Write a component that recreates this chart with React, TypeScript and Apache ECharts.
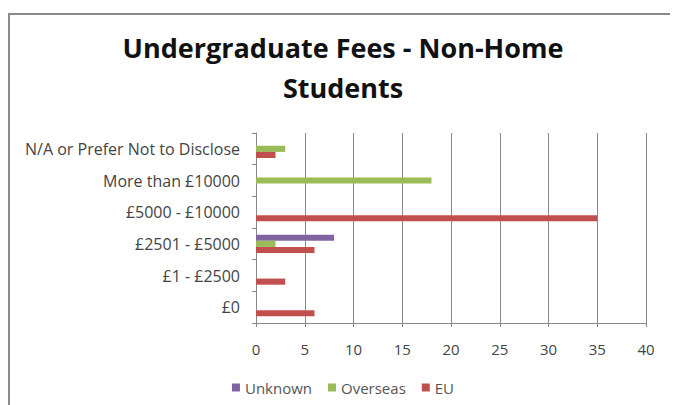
import React, { useEffect, useRef } from "react";
import * as echarts from "echarts";

const categories = [
  "£0",
  "£1 - £2500",
  "£2501 - £5000",
  "£5000 - £10000",
  "More than £10000",
  "N/A or Prefer Not to Disclose",
];
const unknownValues = [0, 0, 8, 0, 0, 0];
const overseasValues = [0, 0, 2, 0, 18, 3];
const euValues = [6, 3, 6, 35, 0, 2];
const seriesNames = ["Unknown", "Overseas", "EU"];
const xTicks = { min: 0, max: 40, interval: 5 };

export default function App() {
  const ref = useRef<HTMLDivElement>(null);
  useEffect(() => {
    if (!ref.current) return;
    document.body.style.overflow = "hidden";
    const chart = echarts.init(ref.current, undefined, { renderer: "svg" });
    const font = "Open Sans";
    chart.setOption({
      animation: false,
      backgroundColor: "#ffffff",
      title: {
        text: "Undergraduate Fees - Non-Home\nStudents",
        left: "center",
        top: 14,
        textStyle: {
          fontFamily: font,
          fontWeight: "bold",
          fontSize: 27,
          lineHeight: 40,
          color: "#111111",
        },
      },
      graphic: [
        {
          type: "rect",
          shape: { x: 1, y: 6, width: 665, height: 420 },
          style: { fill: "none", stroke: "#8a8a8a", lineWidth: 2 },
          silent: true,
        },
      ],
      legend: {
        top: 367,
        left: "center",
        data: seriesNames,
        itemWidth: 8,
        itemHeight: 8,
        itemGap: 16,
        icon: "rect",
        textStyle: { fontFamily: font, fontSize: 15, color: "#555555" },
      },
      grid: { left: 248, right: 32, top: 125, bottom: 82 },
      xAxis: {
        type: "value",
        min: xTicks.min,
        max: xTicks.max,
        interval: xTicks.interval,
        axisLine: { show: true, lineStyle: { color: "#888888" } },
        axisTick: { show: true, length: 4, lineStyle: { color: "#888888" } },
        axisLabel: { fontFamily: font, fontSize: 15, color: "#444444", margin: 18 },
        splitLine: { show: true, lineStyle: { color: "#8a8a8a", width: 1 } },
      },
      yAxis: {
        type: "category",
        data: categories,
        axisLine: { show: true, lineStyle: { color: "#888888" } },
        axisTick: { show: true, length: 4, lineStyle: { color: "#888888" } },
        axisLabel: { fontFamily: font, fontSize: 16, color: "#444444", margin: 16 },
      },
      series: [
        {
          name: "Unknown",
          type: "bar",
          data: unknownValues,
          itemStyle: { color: "#8064A2" },
          barGap: "0%",
          barCategoryGap: "42%",
        },
        {
          name: "Overseas",
          type: "bar",
          data: overseasValues,
          itemStyle: { color: "#9BBB59" },
        },
        {
          name: "EU",
          type: "bar",
          data: euValues,
          itemStyle: { color: "#C0504D" },
        },
      ],
    });
    return () => chart.dispose();
  }, []);
  return <div ref={ref} style={{ width: 670, height: 397 }} />;
}
